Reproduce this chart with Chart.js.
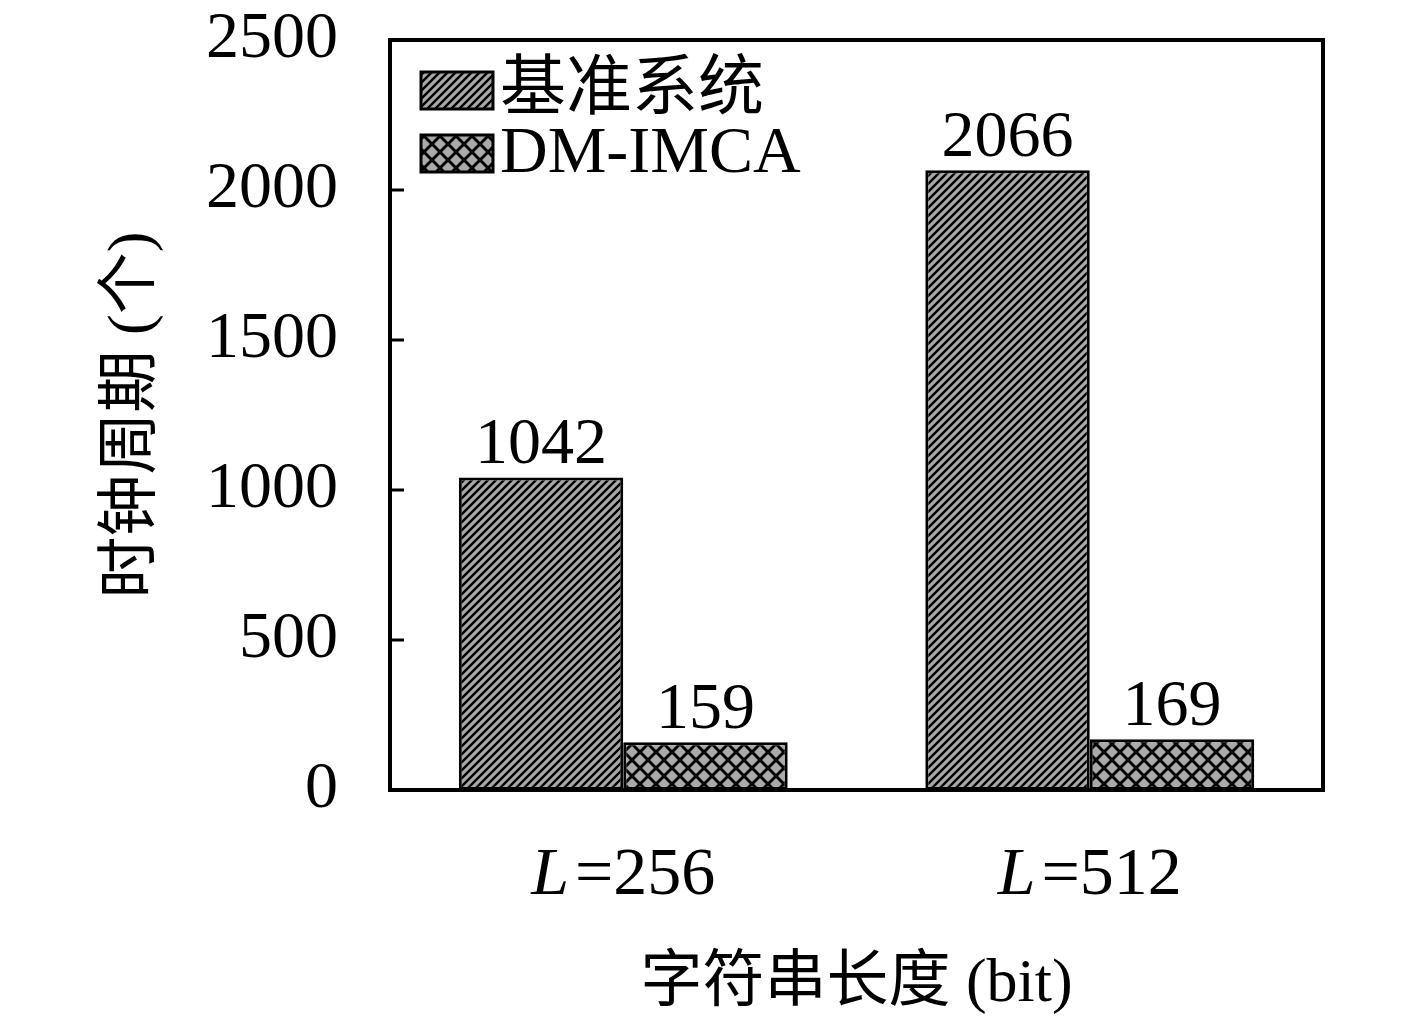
<!DOCTYPE html>
<html>
<head>
<meta charset="utf-8">
<script src="https://cdn.jsdelivr.net/npm/chart.js@4"></script>
<style>
  html, body { margin: 0; padding: 0; background: #fff; }
  #wrap { width: 1417px; height: 1028px; }
</style>
</head>
<body>
<div id="wrap"><canvas id="cycles-chart"></canvas></div>
<script>
// data
const categories = ['256', '512'];
const baselineCycles = [1042, 2066];
const dmImcaCycles = [159, 169];
const yTicks = [0, 500, 1000, 1500, 2000, 2500];

const FONT = "'Liberation Serif', 'Noto Sans CJK SC', serif";

// hatch patterns
function makeDiagonal() {
    const s = 8;
    const c = document.createElement('canvas');
    c.width = s; c.height = s;
    const g = c.getContext('2d');
    g.fillStyle = '#a8a8a8';
    g.fillRect(0, 0, s, s);
    g.strokeStyle = '#000';
    g.lineWidth = 2.4;
    g.beginPath();
    g.moveTo(-1, s + 1); g.lineTo(s + 1, -1);
    g.moveTo(-1, 1); g.lineTo(1, -1);
    g.moveTo(s - 1, s + 1); g.lineTo(s + 1, s - 1);
    g.stroke();
    return g.createPattern(c, 'repeat');
}

function makeCross() {
    const s = 16;
    const c = document.createElement('canvas');
    c.width = s; c.height = s;
    const g = c.getContext('2d');
    g.fillStyle = '#aaaaaa';
    g.fillRect(0, 0, s, s);
    g.strokeStyle = '#000';
    g.lineWidth = 3;
    g.beginPath();
    g.moveTo(-2, s + 2); g.lineTo(s + 2, -2);
    g.moveTo(-2, -2); g.lineTo(s + 2, s + 2);
    g.stroke();
    return g.createPattern(c, 'repeat');
}

const diagPattern = makeDiagonal();
const crossPattern = makeCross();

// frame, inner y ticks, x labels, value labels, legend
const decorPlugin = {
    id: 'decor',
    afterDatasetsDraw(chart) {
        const ctx = chart.ctx;
        const area = chart.chartArea;
        const y = chart.scales.y;
        const x = chart.scales.x;
        ctx.save();

        // value labels
        ctx.fillStyle = '#000';
        ctx.font = '66px ' + FONT;
        ctx.textAlign = 'center';
        ctx.textBaseline = 'alphabetic';
        chart.data.datasets.forEach((ds, i) => {
            chart.getDatasetMeta(i).data.forEach((bar, j) => {
                ctx.fillText(String(ds.data[j]), bar.x, bar.y - 14);
            });
        });

        // frame
        ctx.strokeStyle = '#000';
        ctx.lineWidth = 4;
        ctx.strokeRect(area.left, area.top, area.right - area.left, area.bottom - area.top);

        // inward ticks on the left axis
        ctx.lineWidth = 3;
        ctx.beginPath();
        yTicks.forEach(v => {
            if (v === 0 || v === 2500) return;
            const py = y.getPixelForValue(v);
            ctx.moveTo(area.left, py);
            ctx.lineTo(area.left + 14, py);
        });
        ctx.stroke();

        // category labels: italic L, upright rest
        ctx.textBaseline = 'middle';
        ctx.textAlign = 'left';
        categories.forEach((cat, i) => {
            const px = x.getPixelForTick(i);
            const py = area.bottom + 86;
            const fontIt = 'italic 68px ' + FONT;
            const fontUp = '68px ' + FONT;
            ctx.font = fontIt;
            const wL = ctx.measureText('L').width;
            ctx.font = fontUp;
            const rest = '=' + cat;
            const wR = ctx.measureText(rest).width;
            const start = px - (wL + wR + 6) / 2;
            ctx.font = fontIt;
            ctx.fillText('L', start, py);
            ctx.font = fontUp;
            ctx.fillText(rest, start + wL + 6, py);
        });

        // legend inside plot
        const items = [
            { text: '基准系统', fill: diagPattern, y: 72 },
            { text: 'DM-IMCA', fill: crossPattern, y: 135 }
        ];
        items.forEach(it => {
            ctx.fillStyle = it.fill;
            ctx.fillRect(421, it.y, 72, 37);
            ctx.strokeStyle = '#000';
            ctx.lineWidth = 3;
            ctx.strokeRect(421, it.y, 72, 37);
            ctx.fillStyle = '#000';
            ctx.font = '66px ' + FONT;
            ctx.textAlign = 'left';
            ctx.textBaseline = 'middle';
            ctx.fillText(it.text, 500, it.y + 20);
        });

        ctx.restore();
    }
};

const dataForCycles = {
    labels: categories,
    datasets: [
        {
            label: '基准系统',
            data: baselineCycles,
            backgroundColor: diagPattern,
            borderColor: '#000',
            borderWidth: 3,
            borderSkipped: false
        },
        {
            label: 'DM-IMCA',
            data: dmImcaCycles,
            backgroundColor: crossPattern,
            borderColor: '#000',
            borderWidth: 3,
            borderSkipped: false
        }
    ]
};

const configForCycles = {
    type: 'bar',
    data: dataForCycles,
    options: {
        responsive: true,
        maintainAspectRatio: false,
        animation: false,
        categoryPercentage: 0.705,
        barPercentage: 1.0,
        layout: {
            padding: { left: 97, right: 94, top: 40, bottom: 6 }
        },
        plugins: {
            legend: { display: false },
            tooltip: { enabled: false }
        },
        scales: {
            x: {
                grid: { display: false },
                border: { display: false },
                ticks: { display: false },
                title: {
                    display: true,
                    text: '字符串长度 (bit)',
                    color: '#000',
                    font: { family: FONT, size: 62, lineHeight: 1.2 },
                    padding: 0
                },
                afterFit(scale) { scale.height = 1028 - 790 - 6; }
            },
            y: {
                min: 0,
                max: 2500,
                grid: { display: false },
                border: { display: false },
                afterBuildTicks(scale) {
                    scale.ticks = yTicks.map(v => ({ value: v }));
                },
                ticks: {
                    color: '#000',
                    padding: 44,
                    font: { family: FONT, size: 66, lineHeight: 1 },
                    callback: (v) => String(v)
                },
                title: {
                    display: true,
                    text: '时钟周期 (个)',
                    color: '#000',
                    font: { family: FONT, size: 62, lineHeight: 1.2 },
                    padding: 0
                },
                afterFit(scale) {
                    scale.width = 390 - 97;
                    scale.paddingTop = 0;
                    scale.paddingBottom = 0;
                }
            }
        }
    },
    plugins: [decorPlugin]
};

const cyclesChart = new Chart(
    document.getElementById('cycles-chart'),
    configForCycles
);
</script>
</body>
</html>
